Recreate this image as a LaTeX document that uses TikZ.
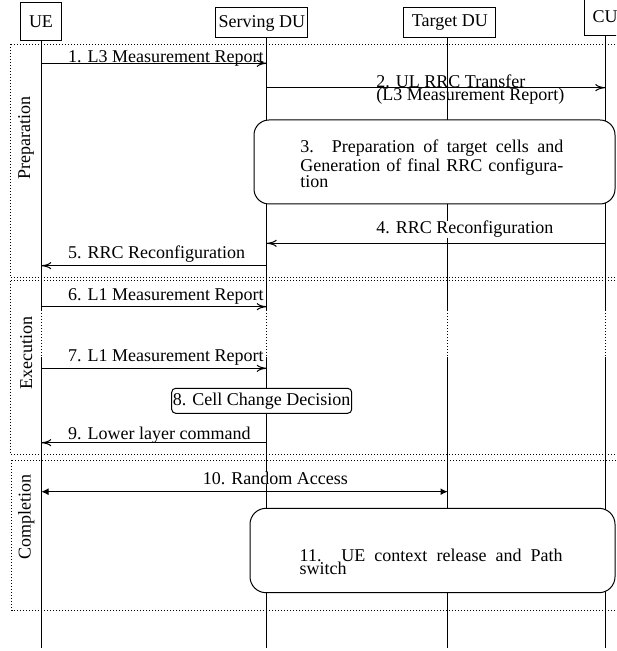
\documentclass[tikz,border=0pt]{standalone}
\usepackage{fontspec}
\setmainfont{Liberation Serif}
\usetikzlibrary{arrows.meta}
\begin{document}
\begin{tikzpicture}[x=0.5pt,y=-0.5pt,
  font=\fontsize{9pt}{10pt}\selectfont,
  every node/.style={inner sep=0pt},
  hdr/.style={draw, line width=0.5pt, fill=white, inner sep=0pt},
  life/.style={line width=0.55pt},
  lifedot/.style={line width=0.55pt, dash pattern=on 0.5pt off 1pt},
  phase/.style={line width=0.4pt, dash pattern=on 0.45pt off 1.05pt},
  msg/.style={line width=0.5pt, -{To[length=5pt,width=3.6pt]}},
  ramsg/.style={line width=0.5pt, {Latex[length=3.6pt,width=3.4pt]}-{Latex[length=3.6pt,width=3.4pt]}},
  lbl/.style={inner sep=0pt, anchor=base west},
  proc/.style={draw, line width=0.5pt, fill=white},
  ptext/.style={inner sep=0pt, anchor=north west, text width=131.5pt, align=justify},
  phlabel/.style={rotate=90, anchor=center, inner sep=0pt}
]
\useasboundingbox (0,0) rectangle (616,651);
\clip (0,0) rectangle (616,651);

% phases
\draw[phase] (10.7,44) rectangle (640,277.7);
\draw[phase] (10.7,280.7) rectangle (640,454.3);
\draw[phase] (11.7,460) rectangle (640,610.7);
\node[phlabel] (pprep) at (26.2,138.3) {Preparation};
\node[phlabel] (pexec) at (26.2,353.3) {Execution};
\node[phlabel] (pcomp) at (26.2,516.7) {Completion};

% lifeline coordinates
\coordinate (ueA) at (41.3,310);   \coordinate (ueB) at (41.3,357);   \coordinate (ueE) at (41.3,648);
\coordinate (sduA) at (266.7,310); \coordinate (sduB) at (266.7,357); \coordinate (sduE) at (266.7,648);
\coordinate (tduA) at (447.7,310); \coordinate (tduB) at (447.7,357); \coordinate (tduE) at (447.7,648);
\coordinate (cuA) at (605.3,310);  \coordinate (cuB) at (605.3,357);  \coordinate (cuE) at (605.3,648);

% headers
\node[hdr, minimum width=20.2pt, minimum height=19pt] (ue) at (41,21.3) {UE};
\node[hdr, minimum width=46.15pt, minimum height=15pt] (sdu) at (261.8,23) {Serving DU};
\node[hdr, minimum width=46.15pt, minimum height=15pt] (tdu) at (449.8,22.4) {Target DU};
\node[hdr, minimum width=20.2pt, minimum height=19pt] (cu) at (605,16.7) {CU};

% lifelines
\foreach \n in {ue,sdu,tdu,cu}{
  \draw[life] (\n.south -| \n A) -- (\n A);
  \draw[lifedot] (\n A) -- (\n B);
  \draw[life] (\n B) -- (\n E);
}

% 1
\draw[msg] (ueE |- 0,63.3) -- (sduE |- 0,63.3);
\node[lbl] (l1) at (67.7,62.3) {1. L3 Measurement Report};
% 2
\draw[msg] (sduE |- 0,87.7) -- (cuE |- 0,87.7);
\node[inner sep=0pt, anchor=north west, align=left, font=\fontsize{9pt}{6.65pt}\selectfont] (l2) at (376,74.4) {2. UL RRC Transfer\\(L3 Measurement Report)};
% 3
\node[proc, rounded corners=7.5pt, minimum width=180.5pt, minimum height=42pt] (b3) at (434.5,162) {};
\node[ptext, font=\fontsize{9pt}{8.25pt}\selectfont] (t3) at (300,139.7) {\tolerance=10000 3. Preparation of target cells and Generation of final RRC configuration};
% 4
\draw[msg] (cuE |- 0,243.3) -- (sduE |- 0,243.3);
\node[lbl, fill=white] (l4) at (376,234) {4. RRC Reconfiguration};
% 5
\draw[msg] (sduE |- 0,265.7) -- (ueE |- 0,265.7);
\node[lbl] (l5) at (67.7,258.3) {5. RRC Reconfiguration};
% 6
\draw[msg] (ueE |- 0,306.7) -- (sduE |- 0,306.7);
\node[lbl] (l6) at (67.7,300) {6. L1 Measurement Report};
% 7
\draw[msg] (ueE |- 0,368.3) -- (sduE |- 0,368.3);
\node[lbl] (l7) at (67.7,361.7) {7. L1 Measurement Report};
% 8
\node[proc, rounded corners=2pt, minimum width=90pt, minimum height=12.5pt] (b8) at (261.7,400.8) {8. Cell Change Decision};
% 9
\draw[msg] (sduE |- 0,442.7) -- (ueE |- 0,442.7);
\node[lbl] (l9) at (67.7,439.3) {9. Lower layer command};
% 10
\draw[ramsg] (ueE |- 0,491.7) -- (tduE |- 0,491.7);
\node[lbl, fill=white] (l10) at (202.4,484) {10. Random Access};
% 11
\node[proc, rounded corners=8pt, minimum width=182.5pt, minimum height=42.2pt] (b11) at (432.5,550.5) {};
\node[ptext, font=\fontsize{9pt}{6.5pt}\selectfont] (t11) at (299.3,548.7) {\tolerance=10000 11. UE context release and Path switch};
\end{tikzpicture}
\end{document}
